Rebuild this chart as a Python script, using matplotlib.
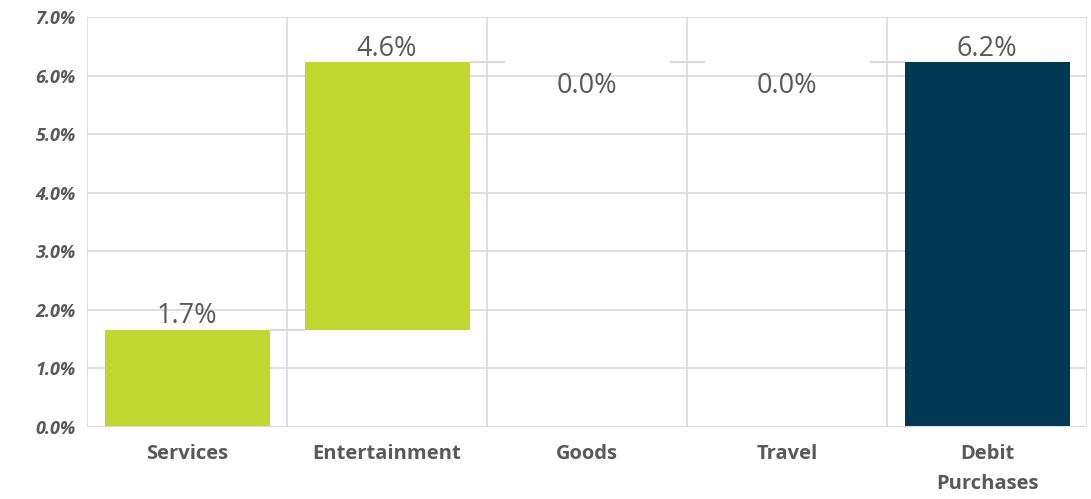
import matplotlib
matplotlib.use("Agg")
import matplotlib.pyplot as plt

categories = ["Services", "Entertainment", "Goods", "Travel", "Debit\nPurchases"]
increments = [1.66, 4.57, 0.0, 0.0]
green = "#c0d72f"
navy = "#003853"
text_col = "#595959"
grid_col = "#d9d9d9"

plt.rcParams['font.family'] = ['Open Sans', 'DejaVu Sans']

fig = plt.figure(figsize=(10.91, 4.99), dpi=100)
ax = fig.add_axes([87/1091, 1-427/499, 1000/1091, 410/499])

total = sum(increments)
width = 0.825
bottoms = []
cum = 0.0
for v in increments:
    bottoms.append(cum)
    cum += v
heights = increments + [total]
bottoms = bottoms + [0.0]
colors = [green]*len(increments) + [navy]
x = list(range(len(categories)))

ax.bar(x, heights, bottom=bottoms, width=width, color=colors, zorder=3)

# connectors
levels = [b + h for b, h in zip(bottoms, heights)]
for i in range(len(categories)-1):
    ax.plot([i + width/2, i + 1 - width/2], [levels[i], levels[i]],
            color=grid_col, lw=1.5, zorder=2, solid_capstyle='butt')

# labels
for i, (b, h) in enumerate(zip(bottoms, heights)):
    lab = f"{h:.1f}%"
    if h > 0:
        ax.annotate(lab, (i, b + h), xytext=(0, -0.5), textcoords='offset points',
                    ha='center', va='bottom', fontsize=19.5, color=text_col)
    else:
        ax.annotate(lab, (i, b + h), xytext=(0, -7), textcoords='offset points',
                    ha='center', va='top', fontsize=19.5, color=text_col)

ax.set_xlim(-0.5, len(categories) - 0.5)
ax.set_ylim(0, 7)
ax.set_yticks(range(0, 8))
ax.set_yticklabels([f"{v:.1f}%" for v in range(0, 8)], fontsize=13,
                   fontweight='bold', fontstyle='italic', color=text_col)
ax.set_xticks(x)
ax.set_xticklabels(categories, fontsize=14.5, fontweight='bold', color=text_col,
                   linespacing=1.65)
ax.tick_params(axis='both', length=0)
ax.tick_params(axis='x', pad=12.5)
ax.tick_params(axis='y', pad=8)

ax.yaxis.grid(True, color=grid_col, lw=1.2, zorder=0)
for xb in [i - 0.5 for i in range(len(categories) + 1)]:
    ax.axvline(xb, color=grid_col, lw=1.2, zorder=1)
for s in ax.spines.values():
    s.set_visible(False)
ax.axhline(0, color=grid_col, lw=1.5, zorder=4)

fig.savefig("out.png", dpi=100)
